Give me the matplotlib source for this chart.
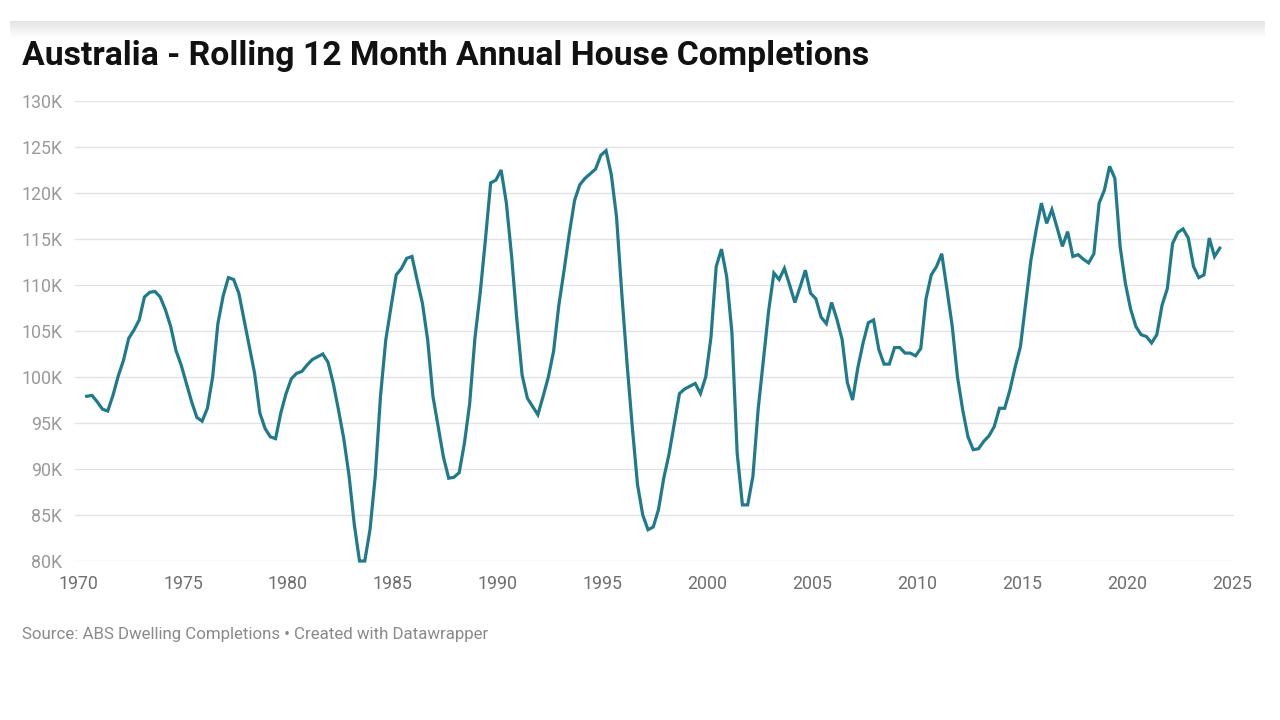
import numpy as np
import pandas as pd
import matplotlib
matplotlib.use('Agg')
from matplotlib import pyplot

# quarterly rolling 12 month house completions (thousands), Jun 1970 - Jun 2024
vals = [
    97.9, 98.0, 97.3,
    96.5, 96.3, 98.0, 100.1,
    101.8, 104.2, 105.1, 106.2,
    108.7, 109.2, 109.3, 108.7,
    107.3, 105.5, 102.9, 101.3,
    99.3, 97.3, 95.6, 95.2,
    96.6, 100.0, 105.8, 108.8,
    110.8, 110.6, 109.1, 106.2,
    103.3, 100.4, 96.1, 94.4,
    93.5, 93.3, 96.1, 98.2,
    99.8, 100.4, 100.6, 101.3,
    101.9, 102.2, 102.5, 101.6,
    99.3, 96.4, 93.3, 89.3,
    84.0, 80.0, 80.0, 83.4,
    89.2, 97.9, 104.0, 107.6,
    111.1, 111.8, 112.9, 113.1,
    110.5, 108.0, 104.0, 97.9,
    94.6, 91.3, 89.0, 89.1,
    89.6, 92.8, 97.1, 104.2,
    109.1, 114.9, 121.1, 121.4,
    122.5, 118.9, 113.1, 106.2,
    100.2, 97.7, 96.8, 95.9,
    97.9, 100.0, 102.8, 107.8,
    111.6, 115.6, 119.2, 120.9,
    121.6, 122.1, 122.6, 124.1,
    124.6, 122.0, 117.4, 109.1,
    101.5, 94.6, 88.3, 85.0,
    83.4, 83.7, 85.6, 89.0,
    91.6, 94.9, 98.2, 98.7,
    99.0, 99.3, 98.2, 100.0,
    104.3, 112.0, 113.9, 110.9,
    104.8, 91.7, 86.1, 86.1,
    89.2, 96.5, 101.8, 107.2,
    111.3, 110.6, 111.8, 110.0,
    108.1, 109.8, 111.6, 109.1,
    108.5, 106.5, 105.8, 108.1,
    106.3, 104.1, 99.4, 97.5,
    101.0, 103.7, 105.9, 106.2,
    103.0, 101.4, 101.4, 103.2,
    103.2, 102.6, 102.6, 102.3,
    103.1, 108.5, 111.1, 112.0,
    113.4, 109.5, 105.5, 100.0,
    96.4, 93.5, 92.1, 92.2,
    93.0, 93.6, 94.6, 96.6,
    96.6, 98.6, 101.1, 103.3,
    108.0, 112.7, 116.0, 118.9,
    116.7, 118.2, 116.2, 114.2,
    115.8, 113.1, 113.3, 112.8,
    112.4, 113.4, 118.9, 120.3,
    122.9, 121.6, 114.2, 110.2,
    107.4, 105.5, 104.6, 104.4,
    103.7, 104.6, 107.8, 109.6,
    114.5, 115.7, 116.1, 115.1,
    112.0, 110.8, 111.1, 115.1,
    113.1, 114.0,
]

dates = pd.date_range('1970-06-01', periods=len(vals), freq='3MS')
t = dates.year + (dates.month - 1) / 12.0

years = [1970, 1975, 1980, 1985, 1990, 1995, 2000, 2005, 2010, 2015, 2020, 2025]
yticks = [80, 85, 90, 95, 100, 105, 110, 115, 120, 125, 130]

title = 'Australia - Rolling 12 Month Annual House Completions'
source = 'Source: ABS Dwelling Completions \u2022 Created with Datawrapper'

pyplot.rcParams['font.family'] = ['Roboto', 'DejaVu Sans']

W, H = 1280, 720
fig = pyplot.figure(figsize=(12.8, 7.2), dpi=100)
fig.patch.set_facecolor('white')

# grey fade bar across the top
gax = fig.add_axes([10 / W, 1 - 38 / H, 1255 / W, 17 / H])
grad = np.linspace(0.89, 1.0, 50).reshape(-1, 1)
gax.imshow(np.repeat(grad, 2, axis=1), aspect='auto', cmap='gray', vmin=0, vmax=1,
           extent=[0, 1, 0, 1], origin='upper')
gax.axis('off')

# plot area: 1970 at x=78px, 2025 at x=1232px, 80K at y=561px, 130K at y=101px
ppy = (1232 - 78) / 55.0
x0 = 1970 - 3 / ppy
x1 = 2025 + 2 / ppy
ax = fig.add_axes([75 / W, 1 - 561 / H, (1234 - 75) / W, (561 - 101) / H])
ax.set_xlim(x0, x1)
ax.set_ylim(80, 130)

for v in yticks:
    ax.axhline(v, color='#e3e3e3', lw=1.0, zorder=1)

ax.plot(t, vals, color='#1f7a8c', lw=2.3, solid_joinstyle='miter', zorder=3, clip_on=False)

ax.set_yticks(yticks)
ax.set_yticklabels([f'{v}K' for v in yticks])
ax.set_xticks(years)
ax.set_xticklabels([str(y) for y in years])
ax.tick_params(axis='y', length=0, pad=9, labelsize=12.8, labelcolor='#9a9a9a')
ax.tick_params(axis='x', length=0, pad=10, labelsize=12.8, labelcolor='#6f6f6f')
for s in ax.spines.values():
    s.set_visible(False)
ax.set_facecolor('none')

fig.text(22 / W, 1 - 56 / H, title, fontsize=24.3, fontweight='bold', color='#111111',
         ha='left', va='center')
fig.text(22 / W, 1 - 634 / H, source, fontsize=12.2, color='#8a8a8a', ha='left', va='center')

pyplot.savefig('out.png', dpi=100)
